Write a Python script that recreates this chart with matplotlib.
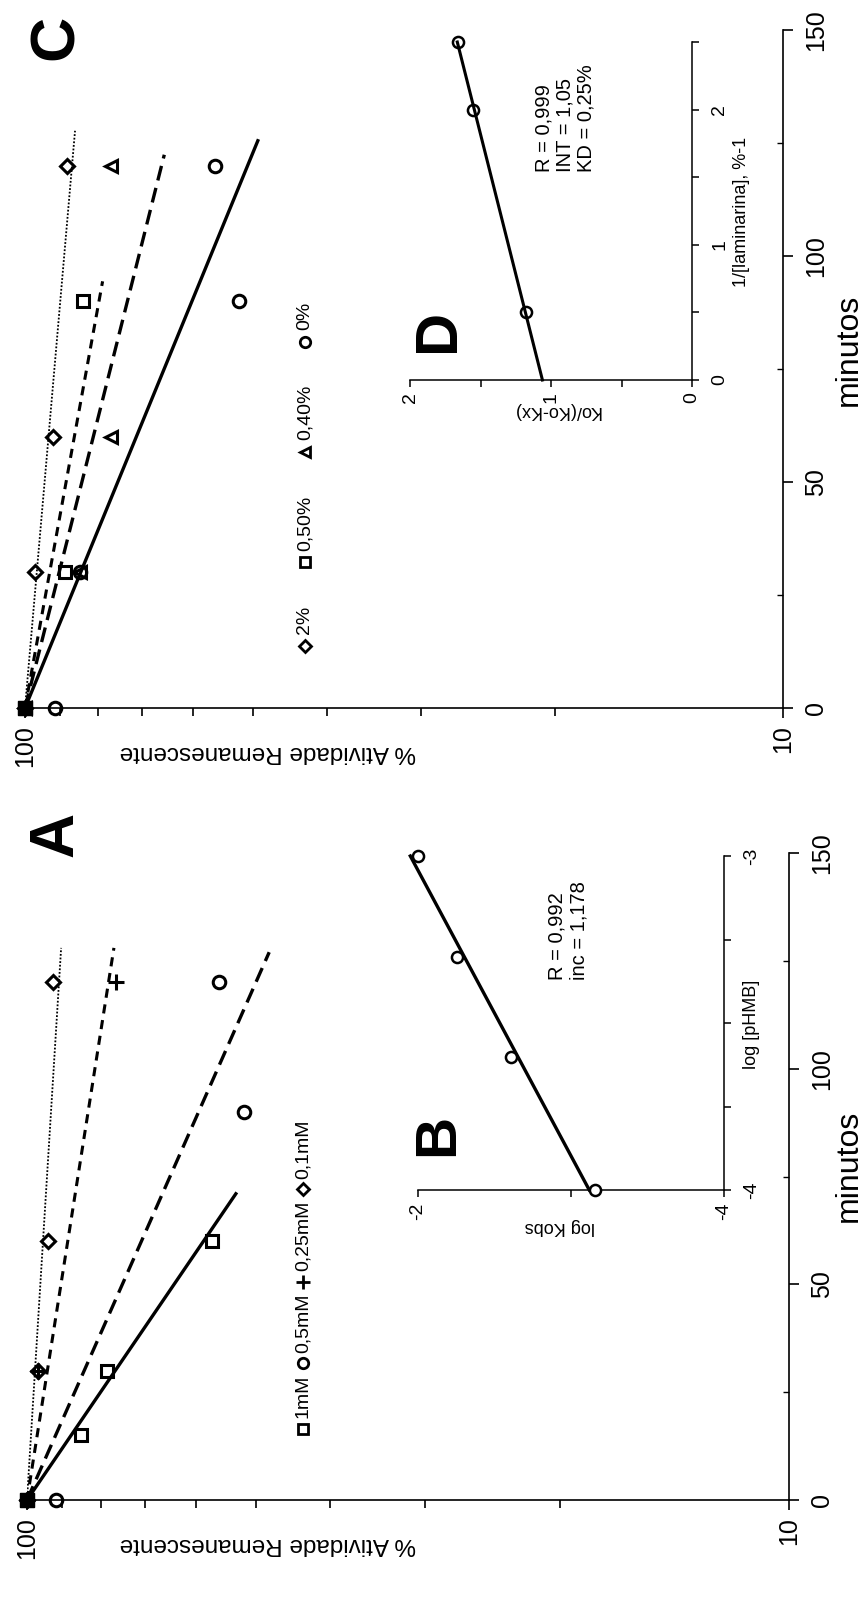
import numpy as np
import matplotlib
matplotlib.use("Agg")
import matplotlib.pyplot as plt
from matplotlib.lines import Line2D
from matplotlib.ticker import FixedLocator, NullFormatter

FONT = ["Liberation Sans", "DejaVu Sans"]
plt.rcParams["font.family"] = FONT

# ---------------- data ----------------
# Panel A : % remaining activity vs minutes, pHMB concentrations
A_t_1mM = [0, 15, 30, 60]
A_a_1mM = [100, 85.0, 78.6, 57.2]
A_t_05mM = [0, 90, 120]
A_a_05mM = [91.7, 51.9, 56.0]
A_t_025mM = [0, 30, 120]
A_a_025mM = [100, 96.8, 76.5]
A_t_01mM = [0, 30, 60, 120]
A_a_01mM = [100, 96.8, 93.9, 92.5]
# fitted first-order lines (end point, starting at 0 min / 100 %)
A_fit_end_t = [71, 127, 128, 128]
A_fit_end_a = [53.2, 48.1, 76.9, 90.2]
A_legend_labels = ["1mM", "0,5mM", "0,25mM", "0,1mM"]

# Panel B : log Kobs vs log [pHMB]
B_log_phmb = [-4.0, -3.602, -3.301, -3.0]
B_log_kobs = [-3.16, -2.61, -2.255, -2.0]
B_text = "R = 0,992\ninc = 1,178"

# Panel C : % remaining activity vs minutes, laminarina concentrations
C_t_2 = [0, 30, 60, 120]
C_a_2 = [100, 97.0, 91.9, 88.1]
C_t_050 = [0, 30, 90]
C_a_050 = [100, 88.6, 83.8]
C_t_040 = [0, 30, 60, 120]
C_a_040 = [100, 84.5, 77.0, 77.0]
C_t_0 = [0, 30, 90, 120]
C_a_0 = [91.3, 84.5, 52.2, 56.1]
C_fit_end_t = [127.7, 94.4, 122.4, 125.5]
C_fit_end_a = [85.9, 79.0, 65.5, 49.3]
C_legend_labels = ["2%", "0,50%", "0,40%", "0%"]

# Panel D : Ko/(Ko-Kx) vs 1/[laminarina]
D_inv_lam = [0.5, 2.0, 2.5]
D_ratio = [1.18, 1.55, 1.66]
D_text = "R = 0,999\nINT = 1,05\nKD = 0,25%"

# ---------------- figure ----------------
W, H = 866, 1603
fig = plt.figure(figsize=(W / 100, H / 100), dpi=100)


def fx(px):
    return px / W


def fy(py):
    return 1 - py / H


def rect(x0, x1, ytop, ybot):
    return [fx(x0), fy(ybot), fx(x1) - fx(x0), fy(ytop) - fy(ybot)]


def style_axes(ax, lw=1.2):
    for s in ["top", "left"]:
        ax.spines[s].set_visible(False)
    for s in ["bottom", "right"]:
        ax.spines[s].set_linewidth(lw)
    ax.yaxis.tick_right()
    ax.patch.set_alpha(0)


def main_axes(r):
    ax = fig.add_axes(r)
    ax.set_xscale("log")
    ax.set_xlim(100, 10)
    ax.set_ylim(0, 150)
    style_axes(ax)
    ax.xaxis.set_major_locator(FixedLocator([100, 10]))
    ax.set_xticklabels(["100", "10"], rotation=90)
    ax.xaxis.set_minor_locator(FixedLocator([20, 30, 40, 50, 60, 70, 80, 90]))
    ax.xaxis.set_minor_formatter(NullFormatter())
    ax.yaxis.set_major_locator(FixedLocator([0, 50, 100, 150]))
    ax.set_yticklabels(["0", "50", "100", "150"], rotation=90, va="center")
    ax.yaxis.set_minor_locator(FixedLocator([25, 75, 125]))
    ax.yaxis.set_minor_formatter(NullFormatter())
    ax.tick_params(axis="x", which="major", length=7, width=1.2, pad=5, labelsize=18)
    ax.tick_params(axis="x", which="minor", length=6, width=1.2)
    ax.tick_params(axis="y", which="major", length=7, width=1.2, pad=8, labelsize=18)
    ax.tick_params(axis="y", which="minor", length=4, width=1.0, direction="in")
    return ax


def draw_fit_lines(ax, ends_t, ends_a, styles):
    for t1, a1, st in zip(ends_t, ends_a, styles):
        ax.plot([100, a1], [0, t1], color="k", **st)


line_styles = [
    dict(lw=2.4, linestyle="-"),
    dict(lw=2.4, linestyle=(0, (4.5, 2.3))),
    dict(lw=2.2, linestyle=(0, (3.0, 2.2))),
    dict(lw=1.3, linestyle=(0, (1.0, 1.0))),
]
mk = dict(mfc="none", mec="k", ms=9, mew=2.2, linestyle="none", clip_on=False, zorder=4)

# ---- Panel A ----
axA = main_axes(rect(27, 789, 853, 1500))
draw_fit_lines(axA, A_fit_end_t, A_fit_end_a, line_styles)
axA.plot(A_a_1mM, A_t_1mM, marker="s", **mk)
axA.plot(A_a_05mM, A_t_05mM, marker="o", **mk)
axA.plot(A_a_025mM, A_t_025mM, marker="+", **{**mk, "ms": 12})
axA.plot(A_a_01mM, A_t_01mM, marker="D", **{**mk, "ms": 7})
axA.plot(A_a_1mM[0], A_t_1mM[0], marker="s", color="k", ms=10, clip_on=False, zorder=5)

# ---- Panel C ----
axC = main_axes(rect(25, 783, 30, 708))
draw_fit_lines(axC, C_fit_end_t, C_fit_end_a,
               [line_styles[3], line_styles[2], line_styles[1], line_styles[0]])
axC.plot(C_a_2, C_t_2, marker="D", **{**mk, "ms": 7})
axC.plot(C_a_050, C_t_050, marker="s", **mk)
axC.plot(C_a_040, C_t_040, marker="<", **mk)
axC.plot(C_a_0, C_t_0, marker="o", **mk)
axC.plot(C_a_2[0], C_t_2[0], marker="s", color="k", ms=10, clip_on=False, zorder=5)


def inset_axes(r, xlim, ylim, xmaj, xmin, ymaj, ymin):
    ax = fig.add_axes(r)
    ax.set_xlim(*xlim)
    ax.set_ylim(*ylim)
    style_axes(ax, lw=1.1)
    ax.xaxis.set_major_locator(FixedLocator(xmaj))
    ax.set_xticklabels([f"{v:g}" for v in xmaj], rotation=90)
    ax.xaxis.set_minor_locator(FixedLocator(xmin))
    ax.yaxis.set_major_locator(FixedLocator(ymaj))
    ax.set_yticklabels([f"{v:g}" for v in ymaj], rotation=90, va="center")
    ax.yaxis.set_minor_locator(FixedLocator(ymin))
    ax.tick_params(which="major", length=5, width=1.1, pad=4, labelsize=14)
    ax.tick_params(axis="y", which="major", pad=9)
    ax.tick_params(which="minor", length=5, width=1.1)
    return ax


# ---- Panel B ----
axB = inset_axes(rect(418, 724, 856, 1190), (-2, -4), (-4, -3),
                 [-2, -4], [-3], [-4, -3], [-3.75, -3.5, -3.25])
cB = np.polyfit(B_log_phmb, B_log_kobs, 1)
ph = np.array([min(B_log_phmb), max(B_log_phmb)])
axB.plot(np.polyval(cB, ph), ph, color="k", lw=2.4, clip_on=False)
axB.plot(B_log_kobs, B_log_phmb, marker="o", mfc="white", mec="k", ms=8, mew=1.8,
         linestyle="none", clip_on=False, zorder=4)

# ---- Panel D ----
axD = inset_axes(rect(410, 692, 42, 380), (2, 0), (0, 2.5),
                 [2, 1, 0], [1.5, 0.5], [0, 1, 2], [0.5, 1.5, 2.5])
cD = np.polyfit(D_inv_lam, D_ratio, 1)
il = np.array([0.0, max(D_inv_lam)])
axD.plot(np.polyval(cD, il), il, color="k", lw=2.2, clip_on=False)
axD.plot(D_ratio, D_inv_lam, marker="o", mfc="none", mec="k", ms=8, mew=1.8,
         linestyle="none", clip_on=False, zorder=4)


# ---------------- texts ----------------
def T(x, y, s, **kw):
    return fig.text(fx(x), fy(y), s, **kw)


big = dict(fontweight="bold", rotation=90, ha="center", va="center")
T(56, 834, "A", fontsize=45, **big)
T(56, 37, "C", fontsize=45, **big)
T(438, 1135, "B", fontsize=42, **big)
T(438, 330, "D", fontsize=43, **big)

T(849, 1166, "minutos", fontsize=23, rotation=90, ha="center", va="center")
T(849, 350, "minutos", fontsize=23, rotation=90, ha="center", va="center")
T(268, 1544, "% Atividade Remanescente", fontsize=17.5, rotation=180, ha="center", va="center")
T(268, 752, "% Atividade Remanescente", fontsize=17.5, rotation=180, ha="center", va="center")

renderer = fig.canvas.get_renderer()


def rotated_legend(x, y_start, markers, labels, sym_gap, entry_gap, fs=14):
    """Legend laid out bottom-to-top (rotated 90 degrees)."""
    y = H - y_start  # display px from bottom
    msize = 11
    for m, lab in zip(markers, labels):
        ms = {"+": 10, "D": 6}.get(m, 7.5)
        fig.add_artist(Line2D([x / W], [(y + msize / 2) / H], transform=fig.transFigure,
                              marker=m, ms=ms, mew=2.0, mfc="none", mec="k",
                              linestyle="none"))
        y += msize + sym_gap
        t = fig.text(x / W, y / H, lab, fontsize=fs, rotation=90, ha="center", va="bottom")
        y += t.get_window_extent(renderer).height + entry_gap


rotated_legend(303, 1434, ["s", "o", "+", "D"], A_legend_labels, 5, 6)
rotated_legend(305, 651, ["D", "s", "<", "o"], C_legend_labels, 6, 38)

T(568, 980, B_text, fontsize=14.5, rotation=90, ha="center", va="bottom", ma="left",
  linespacing=1.15)
T(565, 172, D_text, fontsize=14.5, rotation=90, ha="center", va="bottom", ma="left",
  linespacing=1.15)

T(560, 1226, "log Kobs", fontsize=13, rotation=180, ha="center", va="center")
T(752, 1024, "log [pHMB]", fontsize=13, rotation=90, ha="center", va="center")
T(556, 410, "Ko/(Ko-Kx)", fontsize=13, rotation=180, ha="center", va="center")
T(741, 212, "1/[laminarina], %-1", fontsize=13, rotation=90, ha="center", va="center")

fig.savefig("out.png", dpi=100)
